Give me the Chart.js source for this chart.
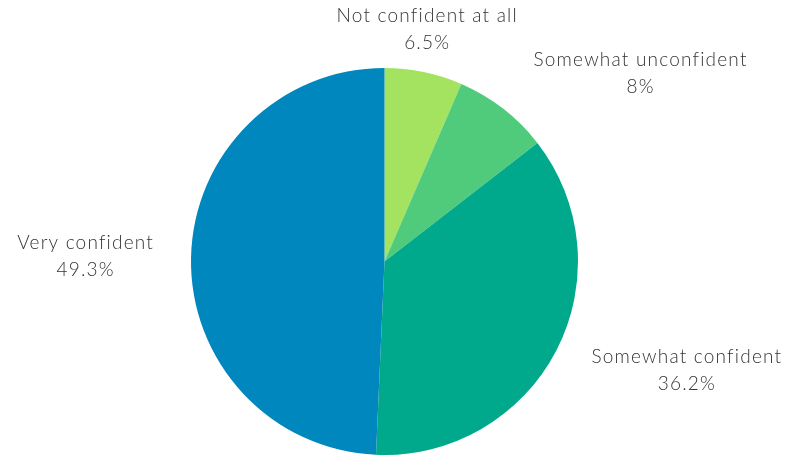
<!DOCTYPE html>
<html>
<head>
<meta charset="utf-8">
<script src="https://cdn.jsdelivr.net/npm/chart.js@4/dist/chart.umd.min.js"></script>
<style>
  html, body { margin: 0; padding: 0; background: #fff; }
  #wrap { width: 791px; height: 455px; }
</style>
</head>
<body>
<div id="wrap"><canvas id="confidencePie"></canvas></div>
<script>
// confidence levels, clockwise from the top
const categories = ["Not confident at all", "Somewhat unconfident", "Somewhat confident", "Very confident"];
const shares = [6.5, 8, 36.2, 49.3];
const sliceColors = ["#a3e360", "#4fcb7b", "#00a98b", "#0087bd"];

const LABEL_FONT = '300 19px "Lato", "Open Sans", sans-serif';
const LINE_H = 27;

// draws "name / value%" outside each slice
const outsideLabels = {
  id: 'outsideLabels',
  afterDatasetsDraw(chart) {
    const ctx = chart.ctx;
    const meta = chart.getDatasetMeta(0);
    ctx.save();
    ctx.font = LABEL_FONT;
    ctx.letterSpacing = '1.2px';
    ctx.fillStyle = '#333333';
    ctx.textBaseline = 'middle';
    meta.data.forEach((arc, i) => {
      const lines = [categories[i], shares[i] + '%'];
      const w = Math.max(...lines.map(l => ctx.measureText(l).width));
      const h = LINE_H * lines.length;
      const mid = (arc.startAngle + arc.endAngle) / 2;
      const s = Math.cos(mid), c = -Math.sin(mid); // sin/cos measured from the top
      const r = arc.outerRadius + 17;
      const ax = arc.x + r * s;
      const ay = arc.y - r * c;
      const cy = ay - c * h / 2;
      let cx;
      if (Math.abs(s) < 0.5) {
        // near the top: centre the block over the anchor
        cx = ax;
      } else {
        cx = ax + Math.sign(s) * (20 + w / 2);
      }
      ctx.textAlign = 'center';
      lines.forEach((l, k) => {
        ctx.fillText(l, cx, cy - h / 2 + LINE_H * (k + 0.5));
      });
    });
    ctx.restore();
  }
};

new Chart(document.getElementById('confidencePie'), {
  type: 'pie',
  data: {
    labels: categories,
    datasets: [{
      data: shares,
      backgroundColor: sliceColors,
      borderWidth: 0
    }]
  },
  options: {
    responsive: true,
    maintainAspectRatio: false,
    animation: false,
    layout: { padding: { top: 68, bottom: 0, left: 0, right: 22 } },
    plugins: {
      legend: { display: false },
      tooltip: { enabled: false }
    }
  },
  plugins: [outsideLabels]
});
</script>
</body>
</html>
